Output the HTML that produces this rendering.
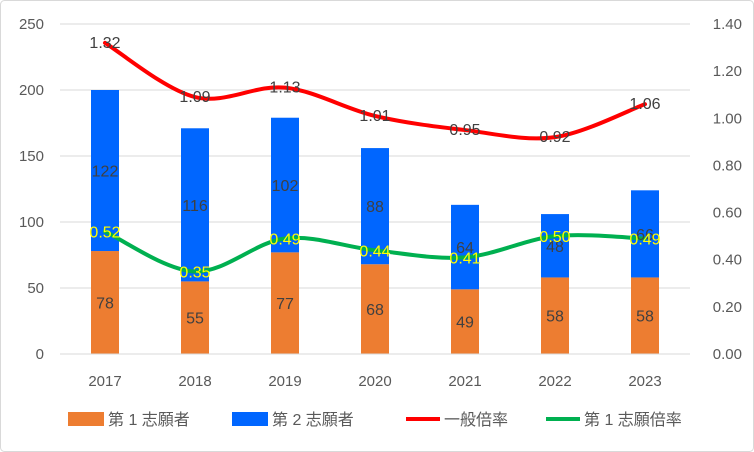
<!DOCTYPE html>
<html><head><meta charset="utf-8"><style>
html,body{margin:0;padding:0;background:#fff}
svg{display:block;font-family:"Liberation Sans","Noto Sans CJK JP",sans-serif}
</style></head><body>
<svg id="chart" width="754" height="452" viewBox="0 0 754 452" xmlns="http://www.w3.org/2000/svg">
<rect x="0.5" y="0.5" width="753" height="451" rx="4" fill="#fff" stroke="#d9d9d9"/>
<g id="grid"></g><g id="bars"></g><g id="lines"></g><g id="labels"></g><g id="axes"></g>
<g id="legend">
<rect x="68" y="412" width="36" height="14" fill="#ED7D31"/>
<text x="108" y="425" font-size="16" fill="#595959">第 1 志願者</text>
<rect x="232" y="412" width="36" height="14" fill="#0066FF"/>
<text x="272" y="425" font-size="16" fill="#595959">第 2 志願者</text>
<line x1="406" y1="419" x2="440" y2="419" stroke="#FF0000" stroke-width="4"/>
<text x="444" y="425" font-size="16" fill="#595959">一般倍率</text>
<line x1="546" y1="419" x2="580" y2="419" stroke="#00B050" stroke-width="4"/>
<text x="584" y="425" font-size="16" fill="#595959">第 1 志願倍率</text>
</g>
</svg>
<script>
const categories=["2017","2018","2019","2020","2021","2022","2023"];
const firstApplicants=[78,55,77,68,49,58,58];
const secondApplicants=[122,116,102,88,64,48,66];
const generalRatio=[1.32,1.09,1.13,1.01,0.95,0.92,1.06];
const firstChoiceRatio=[0.52,0.35,0.49,0.44,0.41,0.50,0.49];
const leftTicks=[0,50,100,150,200,250];
const rightTicks=["0.00","0.20","0.40","0.60","0.80","1.00","1.20","1.40"];

const NS="http://www.w3.org/2000/svg";
const X0=60,X1=690,Y0=354,Y1=24;
const yL=v=>Y0-(v/250)*(Y0-Y1);
const yR=v=>Y0-(v/1.4)*(Y0-Y1);
const xC=i=>X0+(X1-X0)/categories.length*(i+0.5);
function mk(tag,parent,attrs,text){const e=document.createElementNS(NS,tag);for(const k in attrs)e.setAttribute(k,attrs[k]);if(text!==undefined)e.textContent=text;document.getElementById(parent).appendChild(e);return e;}

leftTicks.forEach(t=>{
 const g=mk("line","grid",{x1:X0,x2:X1,y1:yL(t),y2:yL(t),stroke:"#d9d9d9","stroke-width":1});
 
 
 const l=mk("text","axes",{x:44,y:yL(t)+5,"font-size":15,fill:"#595959","text-anchor":"end"},String(t));
 
 
});
rightTicks.forEach(t=>{
 const l=mk("text","axes",{x:742,y:yR(parseFloat(t))+5,"font-size":15,fill:"#595959","text-anchor":"end"},t);
 
 
});
categories.forEach((c,i)=>{
 const l=mk("text","axes",{x:xC(i),y:386,"font-size":15,fill:"#595959","text-anchor":"middle"},c);
 
 
 const bw=28;
 const a=firstApplicants[i],b=secondApplicants[i];
 const r1=mk("rect","bars",{x:xC(i)-bw/2,y:yL(a),width:bw,height:Y0-yL(a),fill:"#ED7D31"});
 
 
 const r2=mk("rect","bars",{x:xC(i)-bw/2,y:yL(a+b),width:bw,height:yL(a)-yL(a+b),fill:"#0066FF"});
 
 
 const t1=mk("text","labels",{x:xC(i),y:(yL(a)+Y0)/2+6,"font-size":16,fill:"#404040","text-anchor":"middle"},String(a));
 
 
 const t2=mk("text","labels",{x:xC(i),y:(yL(a)+yL(a+b))/2+6,"font-size":16,fill:"#404040","text-anchor":"middle"},String(b));
 
 
});
mk("line","axes",{x1:X0,x2:X1,y1:Y0,y2:Y0,stroke:"#d9d9d9"});

function smooth(pts){
 let d="M"+pts[0][0]+","+pts[0][1];
 for(let i=0;i<pts.length-1;i++){
  const p0=pts[i-1]||pts[i],p1=pts[i],p2=pts[i+1],p3=pts[i+2]||p2,t=6;
  d+=" C"+(p1[0]+(p2[0]-p0[0])/t)+","+(p1[1]+(p2[1]-p0[1])/t)+" "+(p2[0]-(p3[0]-p1[0])/t)+","+(p2[1]-(p3[1]-p1[1])/t)+" "+p2[0]+","+p2[1];
 }
 return d;
}
const red=mk("path","lines",{d:smooth(generalRatio.map((v,i)=>[xC(i),yR(v)])),fill:"none",stroke:"#FF0000","stroke-width":4,"stroke-linecap":"round"});


const green=mk("path","lines",{d:smooth(firstChoiceRatio.map((v,i)=>[xC(i),yR(v)])),fill:"none",stroke:"#00B050","stroke-width":4,"stroke-linecap":"round"});


generalRatio.forEach((v,i)=>{
 const t=mk("text","labels",{x:xC(i),y:yR(v)+5,"font-size":16,fill:"#404040","text-anchor":"middle"},v.toFixed(2));
 
 
});
firstChoiceRatio.forEach((v,i)=>{
 const t=mk("text","labels",{x:xC(i),y:yR(v)+6,"font-size":16,fill:"#FFFF00","text-anchor":"middle"},v.toFixed(2));
 
 
});
</script>
</body></html>
